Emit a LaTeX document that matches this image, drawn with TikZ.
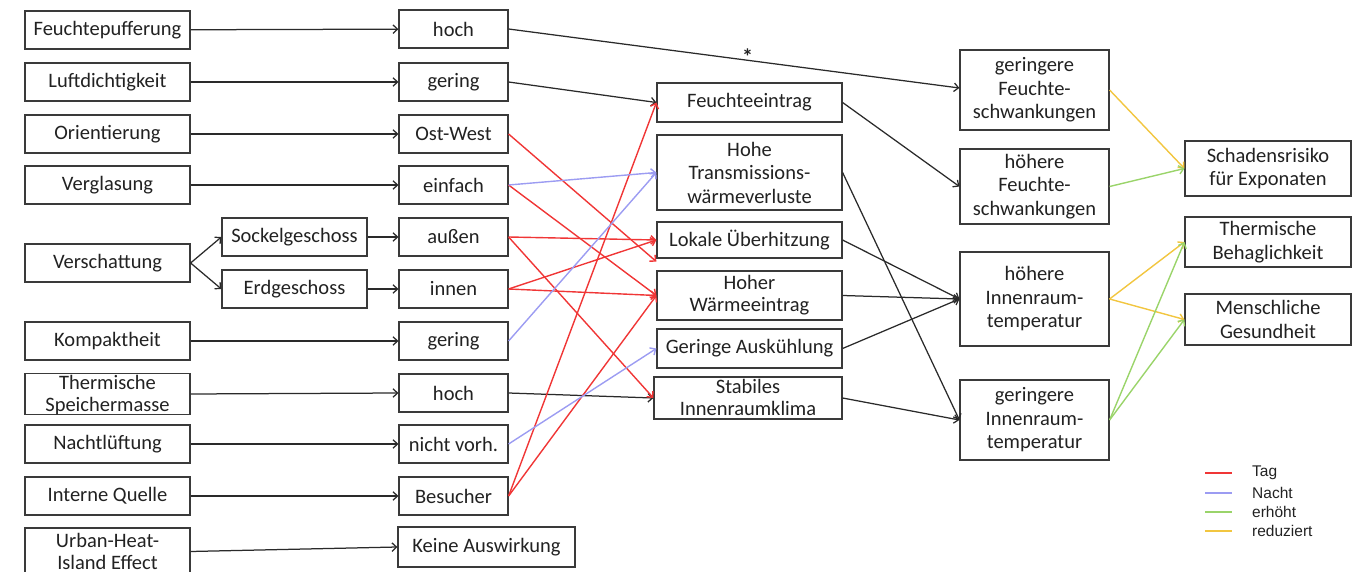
\documentclass[tikz,border=0pt]{standalone}
\usepackage{fontspec}
\setmainfont{Carlito}
\newfontfamily\legfont{Liberation Sans}
\usetikzlibrary{arrows.meta}
\definecolor{tagc}{HTML}{F03636}
\definecolor{nachtc}{HTML}{9C9CF2}
\definecolor{erhc}{HTML}{9AD46A}
\definecolor{redc}{HTML}{F2C640}
\definecolor{boxc}{HTML}{3A3A3A}
\definecolor{txtc}{HTML}{222222}
\definecolor{linec}{HTML}{2A2A2A}
\begin{document}
\begin{tikzpicture}[x=1pt,y=-1pt,
  box/.style={draw=boxc, line width=1.2pt, fill=white, align=center, inner xsep=2pt, inner ysep=0pt,
    text=txtc, font=\fontsize{20.5}{23.5}\selectfont},
  ca/.style={box, minimum width=165pt, minimum height=38pt},
  cs/.style={box, minimum width=145pt, minimum height=38pt},
  cb/.style={box, minimum width=109pt, minimum height=38pt},
  cc/.style={box, minimum width=185pt},
  cd/.style={box, minimum width=149pt},
  ce/.style={box, minimum width=166pt},
  ar/.style={-{Straight Barb[length=4.5pt,width=8.5pt]}, line width=1.25pt, color=linec},
  tg/.style={ar, color=tagc, line width=1.4pt},
  nt/.style={ar, color=nachtc, line width=1.4pt},
  er/.style={ar, color=erhc, line width=1.4pt},
  rd/.style={ar, color=redc, line width=1.4pt},
  leg/.style={inner sep=0pt, anchor=west, font=\legfont\fontsize{15.5}{18}\selectfont, text=txtc},
  legl/.style={line width=2pt}
]
\useasboundingbox (0,0) rectangle (1361,572);
% column 1
\node[ca] (n1) at (107.5,30) {Feuchtepufferung};
\node[ca] (n2) at (107.5,82) {Luftdichtigkeit};
\node[ca] (n3) at (107.5,134) {Orientierung};
\node[ca] (n4) at (107.5,185) {Verglasung};
\node[ca] (n5) at (107.5,263) {Verschattung};
\node[ca] (n6) at (107.5,341) {Kompaktheit};
\node[ca, text height=38pt, text depth=3pt] (n7) at (107.5,394) {Thermische\\[-1.5pt]Speichermasse};
\node[ca] (n8) at (107.5,444) {Nachtlüftung};
\node[ca] (n9) at (107.5,496) {Interne Quelle};
\node[ca, minimum height=47pt] (n10) at (107.5,551.5) {Urban-Heat-\\[-2pt]Island Effect};
% sub column
\node[cs] (s1) at (294.5,237) {Sockelgeschoss};
\node[cs] (s2) at (294.5,289) {Erdgeschoss};
% column 2
\node[cb] (v1) at (453.5,29) {hoch};
\node[cb] (v2) at (453.5,82) {gering};
\node[cb] (v3) at (453.5,134) {Ost-West};
\node[cb] (v4) at (453.5,185) {einfach};
\node[cb] (v5) at (453.5,237) {außen};
\node[cb] (v6) at (453.5,289) {innen};
\node[cb] (v7) at (453.5,341) {gering};
\node[cb] (v8) at (453.5,393) {hoch};
\node[cb] (v9) at (453.5,444) {nicht vorh.};
\node[cb] (v10) at (453.5,496) {Besucher};
\node[box, minimum width=177pt, minimum height=40pt] (v11) at (486.5,547) {Keine Auswirkung};
% column 3
\node[cc, minimum height=39pt] (e1) at (749.5,102.5) {Feuchteeintrag};
\node[cc, minimum height=75pt] (e2) at (749.5,172.5) {Hohe\\Transmissions-\\wärmeverluste};
\node[cc, minimum height=36pt] (e3) at (749.5,240) {Lokale Überhitzung};
\node[cc, minimum height=49pt] (e4) at (749.5,295.5) {Hoher\\[-1.5pt]Wärmeeintrag};
\node[cc, minimum height=39pt] (e5) at (749.5,348.5) {Geringe Auskühlung};
\node[cc, minimum width=188pt, text height=38pt, text depth=4pt] (e6) at (748,398) {Stabiles\\[-1.5pt]Innenraumklima};
% column 4
\node[cd, minimum height=80pt] (f1) at (1034.5,90) {geringere\\Feuchte-\\schwankungen};
\node[cd, minimum height=75pt] (f2) at (1034.5,186.5) {höhere\\Feuchte-\\schwankungen};
\node[cd, minimum height=94pt] (f3) at (1034.5,299) {höhere\\Innenraum-\\temperatur};
\node[cd, minimum height=80pt] (f4) at (1034.5,420) {geringere\\Innenraum-\\temperatur};
% column 5
\node[ce, minimum height=55pt] (g1) at (1268,168.5) {Schadensrisiko\\für Exponaten};
\node[ce, minimum height=50pt] (g2) at (1268,242) {Thermische\\Behaglichkeit};
\node[ce, minimum height=51pt] (g3) at (1268,319.5) {Menschliche\\Gesundheit};
% black arrows column 1 -> 2
\draw[ar] (n1) -- (v1);
\draw[ar] (n2) -- (v2);
\draw[ar] (n3) -- (v3);
\draw[ar] (n4) -- (v4);
\draw[ar] (n5.east) -- (s1.west);
\draw[ar] (n5.east) -- (s2.west);
\draw[ar] (s1) -- (v5);
\draw[ar] (s2) -- (v6);
\draw[ar] (n6) -- (v7);
\draw[ar] (n7.east) -- (v8.west);
\draw[ar] (n8) -- (v9);
\draw[ar] (n9) -- (v10);
\draw[ar] (n10.east) -- (v11.west);
% column 2 -> 3 / 4
\draw[ar] (v1.east) -- node[pos=0.53, inner sep=0pt, yshift=4pt, font=\fontsize{22}{22}\selectfont\bfseries, text=txtc] (ast) {*} ([yshift=2pt]f1.west);
\draw[ar] (v2.east) -- (e1.west);
\draw[ar] (v8.east) -- (e6.west);
\draw[tg] (v3.east) -- ([yshift=-3pt]e3.south west);
\draw[tg] (v4.east) -- (e4.west);
\draw[tg] (v5.east) -- (e3.west);
\draw[tg] (v5.east) -- (e6.west);
\draw[tg] (v6.east) -- (e3.west);
\draw[tg] (v6.east) -- (e4.west);
\draw[tg] (v10.east) -- (e1.west);
\draw[tg] (v10.east) -- (e4.west);
\draw[nt] (v4.east) -- (e2.west);
\draw[nt] (v7.east) -- (e2.west);
\draw[nt] (v9.east) -- (e5.west);
% column 3 -> 4
\draw[ar] (e1.east) -- (f2.west);
\draw[ar] (e2.east) -- (f4.west);
\draw[ar] (e3.east) -- (f3.west);
\draw[ar] (e4.east) -- (f3.west);
\draw[ar] (e5.east) -- (f3.west);
\draw[ar] (e6.east) -- (f4.west);
% column 4 -> 5
\draw[rd] (f1.east) -- (g1.west);
\draw[er] (f2.east) -- (g1.west);
\draw[rd] (f3.east) -- (g2.west);
\draw[rd] (f3.east) -- (g3.west);
\draw[er] (f4.east) -- (g2.west);
\draw[er] (f4.east) -- (g3.west);
% legend
\node[leg] (l1) at (1252,473) {Tag};
\node[leg] (l2) at (1252,493) {Nacht};
\node[leg] (l3) at (1252,512) {erhöht};
\node[leg] (l4) at (1252,531) {reduziert};
\draw[legl, tagc] ([xshift=-47pt]l1.west) -- ++(27,0);
\draw[legl, nachtc] ([xshift=-47pt]l2.west) -- ++(27,0);
\draw[legl, erhc] ([xshift=-47pt]l3.west) -- ++(27,0);
\draw[legl, redc] ([xshift=-47pt]l4.west) -- ++(27,0);
\end{tikzpicture}
\end{document}
